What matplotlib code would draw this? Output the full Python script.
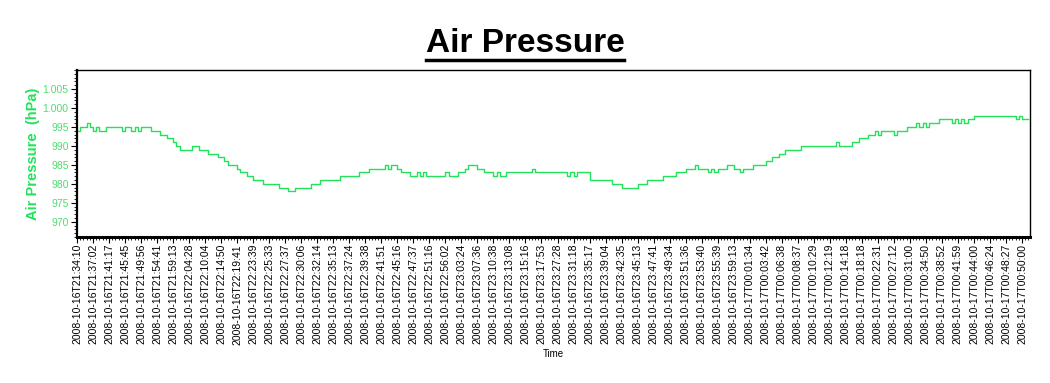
import matplotlib
matplotlib.use("Agg")
import matplotlib.pyplot as plt
from matplotlib.ticker import FixedLocator, MultipleLocator, FuncFormatter
from matplotlib.lines import Line2D

plt.rcParams["font.family"] = ["Liberation Sans", "DejaVu Sans"]

# air pressure (hPa), one reading per sample
pressure = [
    994, 995, 995, 996, 995, 994, 995, 994, 994, 995,
    995, 995, 995, 995, 994, 995, 995, 994, 995, 994,
    995, 995, 995, 994, 994, 994, 993, 993, 992, 992,
    991, 990, 989, 989, 989, 989, 990, 990, 989, 989,
    989, 988, 988, 988, 987, 987, 986, 985, 985, 985,
    984, 983, 983, 982, 982, 981, 981, 981, 980, 980,
    980, 980, 980, 979, 979, 979, 978, 978, 979, 979,
    979, 979, 979, 980, 980, 980, 981, 981, 981, 981,
    981, 981, 982, 982, 982, 982, 982, 982, 983, 983,
    983, 984, 984, 984, 984, 984, 985, 984, 985, 985,
    984, 983, 983, 983, 982, 982, 983, 982, 983, 982,
    982, 982, 982, 982, 982, 983, 982, 982, 982, 983,
    983, 984, 985, 985, 985, 984, 984, 983, 983, 983,
    982, 983, 982, 982, 983, 983, 983, 983, 983, 983,
    983, 983, 984, 983, 983, 983, 983, 983, 983, 983,
    983, 983, 983, 982, 983, 982, 983, 983, 983, 983,
    981, 981, 981, 981, 981, 981, 981, 980, 980, 980,
    979, 979, 979, 979, 979, 980, 980, 980, 981, 981,
    981, 981, 981, 982, 982, 982, 982, 983, 983, 983,
    984, 984, 984, 985, 984, 984, 984, 983, 984, 983,
    984, 984, 984, 985, 985, 984, 984, 983, 984, 984,
    984, 985, 985, 985, 985, 986, 986, 987, 987, 988,
    988, 989, 989, 989, 989, 989, 990, 990, 990, 990,
    990, 990, 990, 990, 990, 990, 990, 991, 990, 990,
    990, 990, 991, 991, 992, 992, 992, 993, 993, 994,
    993, 994, 994, 994, 994, 993, 994, 994, 994, 995,
    995, 995, 996, 995, 996, 995, 996, 996, 996, 997,
    997, 997, 997, 996, 997, 996, 997, 996, 997, 997,
    998, 998, 998, 998, 998, 998, 998, 998, 998, 998,
    998, 998, 998, 997, 998, 997, 997, 997,
]

# every fifth sample carries a time label
time_labels = [
    "2008-10-16T21:34:10", "2008-10-16T21:37:02", "2008-10-16T21:41:17",
    "2008-10-16T21:45:45", "2008-10-16T21:49:56", "2008-10-16T21:54:41",
    "2008-10-16T21:59:13", "2008-10-16T22:04:28", "2008-10-16T22:10:04",
    "2008-10-16T22:14:50", "2008-10-16T22:19:41", "2008-10-16T22:23:39",
    "2008-10-16T22:25:33", "2008-10-16T22:27:37", "2008-10-16T22:30:06",
    "2008-10-16T22:32:14", "2008-10-16T22:35:13", "2008-10-16T22:37:24",
    "2008-10-16T22:39:38", "2008-10-16T22:41:51", "2008-10-16T22:45:16",
    "2008-10-16T22:47:37", "2008-10-16T22:51:16", "2008-10-16T22:56:02",
    "2008-10-16T23:03:24", "2008-10-16T23:07:36", "2008-10-16T23:10:38",
    "2008-10-16T23:13:08", "2008-10-16T23:15:16", "2008-10-16T23:17:53",
    "2008-10-16T23:27:28", "2008-10-16T23:31:18", "2008-10-16T23:35:17",
    "2008-10-16T23:39:04", "2008-10-16T23:42:35", "2008-10-16T23:45:13",
    "2008-10-16T23:47:41", "2008-10-16T23:49:34", "2008-10-16T23:51:36",
    "2008-10-16T23:53:40", "2008-10-16T23:55:39", "2008-10-16T23:59:13",
    "2008-10-17T00:01:34", "2008-10-17T00:03:42", "2008-10-17T00:06:38",
    "2008-10-17T00:08:37", "2008-10-17T00:10:29", "2008-10-17T00:12:19",
    "2008-10-17T00:14:18", "2008-10-17T00:18:18", "2008-10-17T00:22:31",
    "2008-10-17T00:27:12", "2008-10-17T00:31:00", "2008-10-17T00:34:50",
    "2008-10-17T00:38:52", "2008-10-17T00:41:59", "2008-10-17T00:44:00",
    "2008-10-17T00:46:24", "2008-10-17T00:48:27", "2008-10-17T00:50:00",
]
label_every = 5
y_ticks = [970, 975, 980, 985, 990, 995, 1000, 1005]

LINE = "#22e25c"
TICK_GREEN = "#4fdc72"

fig = plt.figure(figsize=(10.5, 3.83), dpi=100)
ax = fig.add_axes([77 / 1050, 146 / 383, 953 / 1050, 167 / 383])

x = list(range(len(pressure)))
ax.plot(x, pressure, color=LINE, lw=1.0, drawstyle="steps-post")

ax.set_xlim(0, len(pressure) - 0.5)
ax.set_ylim(966, 1010)

ax.xaxis.set_major_locator(FixedLocator(x[::label_every][:len(time_labels)]))
ax.set_xticklabels(time_labels, rotation=90, fontsize=7.5, color="black")
ax.xaxis.set_minor_locator(MultipleLocator(1))
ax.tick_params(axis="x", which="major", length=4, width=0.8, pad=1)
ax.tick_params(axis="x", which="minor", length=2, width=0.6)

ax.set_yticks(y_ticks)
ax.yaxis.set_major_formatter(FuncFormatter(lambda v, p: f"{v:,.0f}".replace(",", ".")))
ax.yaxis.set_minor_locator(MultipleLocator(1))
ax.tick_params(axis="y", which="major", length=4, width=0.8, pad=2,
               labelsize=7.5, labelcolor=TICK_GREEN)
ax.tick_params(axis="y", which="minor", length=2, width=0.6)

ax.spines["bottom"].set_linewidth(2.2)
ax.spines["left"].set_linewidth(1.6)
ax.spines["top"].set_linewidth(1.0)
ax.spines["right"].set_linewidth(1.0)

ax.set_xlabel("Time", fontsize=7, labelpad=3)
ax.set_ylabel("Air Pressure  (hPa)", fontsize=10.5, fontweight="bold",
              color=LINE, labelpad=2)

# underlined title
title = fig.text(0.5, 1 - 44 / 383, "Air Pressure", ha="center", va="center",
                 fontsize=24, fontweight="bold")
fig.canvas.draw()
bb = title.get_window_extent().transformed(fig.transFigure.inverted())
y_ul = 1 - 60 / 383
fig.add_artist(Line2D([bb.x0, bb.x1], [y_ul, y_ul], transform=fig.transFigure,
                      color="black", lw=2.5))

fig.savefig("out.png", dpi=100)
